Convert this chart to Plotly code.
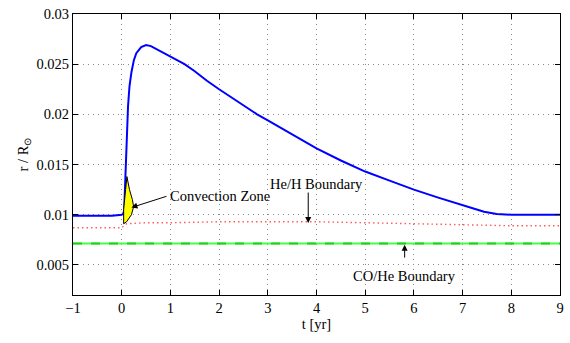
import plotly.graph_objects as go

# Outer radius of the shell (blue)
t_shell = [-1, -0.5, -0.2, 0, 0.03, 0.05, 0.07, 0.1, 0.13, 0.16, 0.2, 0.25, 0.3, 0.4, 0.5, 0.6,
           0.75, 1.0, 1.15, 1.29, 1.5, 1.75, 2.0, 2.25, 2.5, 2.78, 3.0, 3.5, 4.0, 4.5, 5.0, 5.5,
           6.0, 6.5, 7.0, 7.24, 7.44, 7.7, 8.0, 8.5, 9.0]
r_shell = [0.0099, 0.0099, 0.0099, 0.0100, 0.0101, 0.0104, 0.0135, 0.0180, 0.0208, 0.0228,
           0.0242, 0.0254, 0.0261, 0.0267, 0.0269, 0.0268, 0.0264, 0.02577, 0.0254, 0.0250,
           0.0243, 0.02335, 0.0225, 0.0217, 0.0209, 0.0200, 0.0194, 0.0180, 0.0166, 0.0154,
           0.0143, 0.0134, 0.0125, 0.0117, 0.0110, 0.0106, 0.0103, 0.01008, 0.0100, 0.0100, 0.0100]

# He/H boundary (red dotted)
t_heh = [-1, 0, 0.1, 0.5, 1, 2, 3, 4, 5, 6, 7, 8, 9]
r_heh = [0.0087, 0.0087, 0.0091, 0.0092, 0.0092, 0.0093, 0.0093, 0.0093, 0.0092, 0.0091,
         0.0090, 0.0089, 0.0089]

# CO/He boundary (green)
t_cohe = [-1, 9]
r_cohe = [0.00713, 0.00713]

# Convection zone outline
t_conv = [0.04, 0.04, 0.08, 0.107, 0.16, 0.22, 0.245, 0.2, 0.1, 0.04]
r_conv = [0.0091, 0.0105, 0.0125, 0.0138, 0.0125, 0.0115, 0.0108, 0.0100, 0.0093, 0.0091]

x_ticks = list(range(-1, 10))
x_labels = ["\u22121"] + [str(v) for v in range(0, 10)]
y_ticks = [0.005, 0.01, 0.015, 0.02, 0.025, 0.03]
y_labels = ["0.005", "0.01", "0.015", "0.02", "0.025", "0.03"]

FONT = "Liberation Serif, Times New Roman, serif"
FS = 14.5

fig = go.Figure()
fig.add_trace(go.Scatter(x=t_heh, y=r_heh, mode="lines",
                         line=dict(color="#ff5c5c", width=1.4, dash="1.5px,3px")))
fig.add_trace(go.Scatter(x=t_cohe, y=r_cohe, mode="lines",
                         line=dict(color="#44ff44", width=2)))
fig.add_trace(go.Scatter(x=t_cohe, y=r_cohe, mode="lines",
                         line=dict(color="#1fcf1f", width=2, dash="dash")))
fig.add_trace(go.Scatter(x=t_shell, y=r_shell, mode="lines",
                         line=dict(color="#0000ff", width=2)))
fig.add_trace(go.Scatter(x=t_conv, y=r_conv, mode="lines", fill="toself",
                         fillcolor="#ffff00", line=dict(color="black", width=1)))

def arrow(x, y, ax, ay):
    fig.add_annotation(x=x, y=y, ax=ax, ay=ay, xref="x", yref="y", axref="x", ayref="y",
                       text="", showarrow=True, arrowhead=2, arrowsize=1.2, arrowwidth=1,
                       arrowcolor="black")

arrow(0.2, 0.01072, 0.95, 0.01188)
arrow(3.83, 0.00917, 3.83, 0.01236)
arrow(5.81, 0.0070, 5.81, 0.00558)

tf = dict(family=FONT, size=FS, color="black")
fig.add_annotation(x=0.96, y=0.01185, text="Convection Zone", showarrow=False,
                   xanchor="left", yanchor="middle", font=tf)
fig.add_annotation(x=3.99, y=0.01304, text="He/H Boundary", showarrow=False,
                   xanchor="center", yanchor="middle", font=tf)
fig.add_annotation(x=5.81, y=0.00385, text="CO/He Boundary", showarrow=False,
                   xanchor="center", yanchor="middle", font=tf)

axis_common = dict(showline=True, linecolor="black", linewidth=1, mirror="ticks",
                   ticks="inside", ticklen=5, tickcolor="black",
                   showgrid=True, gridcolor="#8a8a8a", griddash="1px,4px", gridwidth=1,
                   zeroline=False, ticklabeloverflow="allow",
                   tickfont=dict(family=FONT, size=FS, color="black"))

fig.update_layout(
    width=570, height=343,
    margin=dict(l=73, r=7, t=6, b=48),
    paper_bgcolor="white", plot_bgcolor="white",
    showlegend=False,
    font=dict(family=FONT, size=FS, color="black"),
    xaxis=dict(range=[-1, 9], tickvals=x_ticks, ticktext=x_labels,
               title=dict(text="t [yr]", font=dict(family=FONT, size=FS), standoff=2),
               **axis_common),
    yaxis=dict(range=[0.002, 0.0300001], tickvals=y_ticks, ticktext=y_labels,
               title=dict(text="r / R<sub>\u2299</sub>", font=dict(family=FONT, size=FS), standoff=4),
               **axis_common),
)

fig.write_html("out.html")
